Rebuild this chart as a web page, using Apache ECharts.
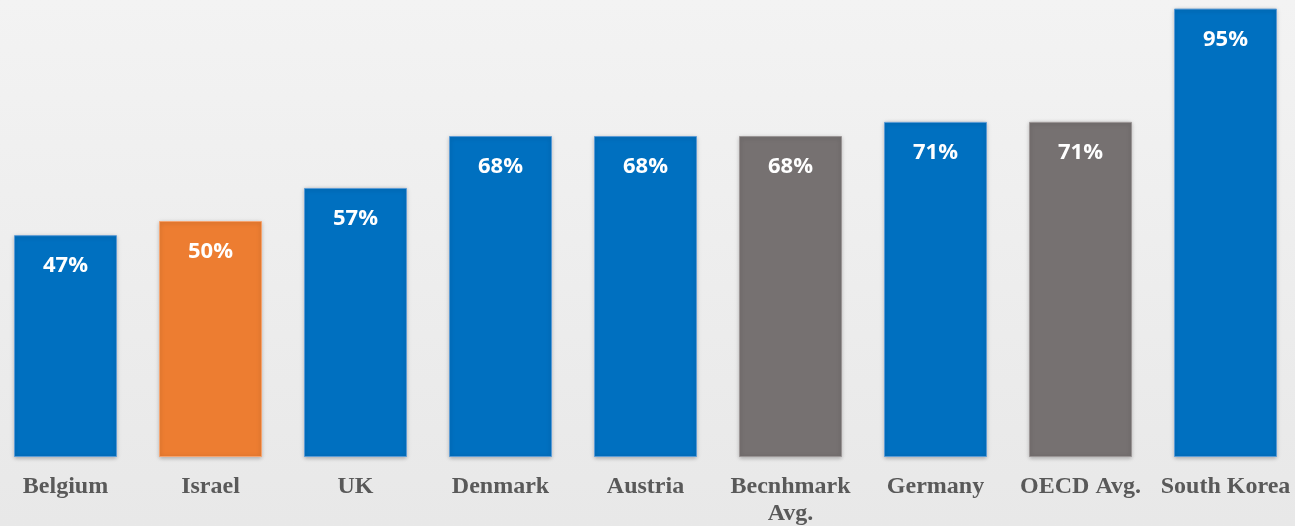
<!DOCTYPE html>
<html>
<head>
<meta charset="utf-8">
<script src="https://cdn.jsdelivr.net/npm/echarts@6/dist/echarts.min.js"></script>
<style>
  html, body { margin: 0; padding: 0; }
  #chart { width: 1295px; height: 526px; background: linear-gradient(#f3f3f3, #e8e8e8); }
</style>
</head>
<body>
<div id="chart"></div>
<script>
const categories = ["Belgium", "Israel", "UK", "Denmark", "Austria", "Becnhmark\nAvg.", "Germany", "OECD Avg.", "South Korea"];
const values = [47, 50, 57, 68, 68, 68, 71, 71, 95];
const kinds = ["country", "israel", "country", "country", "country", "average", "country", "average", "country"];

const fill = { country: "#0070C0", israel: "#ED7D31", average: "#767171" };
const edge = { country: "#5B9BD5", israel: "#F4A470", average: "#9A9595" };

const chart = echarts.init(document.getElementById("chart"));
chart.setOption({
  grid: { left: -7, right: -3, top: -15, bottom: 69, outerBoundsMode: "none" },
  xAxis: {
    type: "category",
    data: categories,
    axisLine: { show: false },
    axisTick: { show: false },
    axisLabel: {
      interval: 0,
      margin: 16,
      color: "#595959",
      fontFamily: "Liberation Serif",
      fontWeight: "bold",
      fontSize: 24,
      lineHeight: 27,
    },
  },
  yAxis: {
    type: "value",
    min: 0,
    max: 100,
    show: false,
    splitLine: { show: false },
  },
  series: [
    {
      type: "bar",
      barWidth: "71%",
      data: values.map((v, i) => ({
        value: v,
        itemStyle: {
          color: fill[kinds[i]],
          borderColor: edge[kinds[i]],
          borderWidth: 1,
          shadowBlur: 4,
          shadowColor: "rgba(0,0,0,0.25)",
          shadowOffsetY: 1,
        },
      })),
      label: {
        show: true,
        position: "insideTop",
        distance: 20,
        formatter: "{c}%",
        color: "#ffffff",
        fontFamily: "Open Sans",
        fontWeight: "bold",
        fontSize: 22,
      },
    },
  ],
});
window.addEventListener("resize", () => {
  chart.resize();
});
</script>
</body>
</html>
